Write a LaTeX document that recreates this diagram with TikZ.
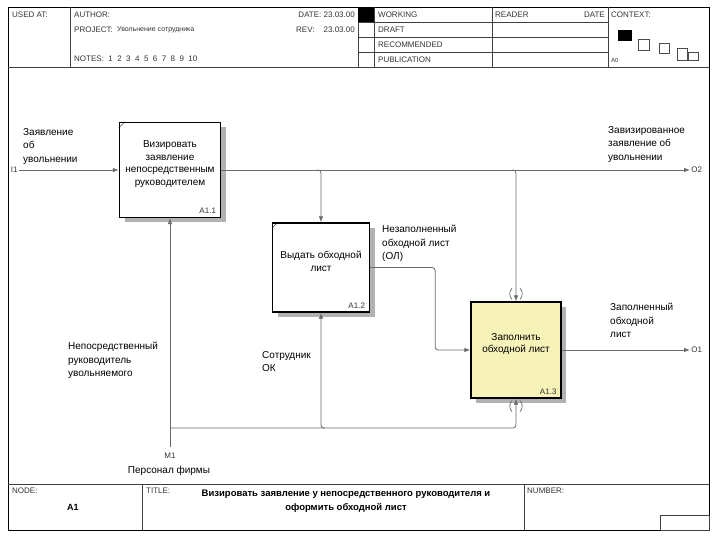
\documentclass[tikz,border=0pt]{standalone}
\usepackage{fontspec}
\setmainfont{Liberation Sans}
\usetikzlibrary{arrows.meta,shadows,calc}
\definecolor{boxyellow}{RGB}{246,242,184}
\definecolor{linegray}{RGB}{105,105,105}

\begin{document}
\begin{tikzpicture}[x=1pt, y=-1pt, inner sep=1pt,
    hdr/.style={font=\fontsize{8}{9}\selectfont, anchor=west, text=black!80},
    lbl/.style={font=\fontsize{10}{13.5}\selectfont, align=left, anchor=north west},
    boxtxt/.style={font=\fontsize{10}{12.5}\selectfont, align=center},
    act/.style={draw, line width=1.3pt, fill=white,
      drop shadow={shadow xshift=5pt, shadow yshift=-5pt, fill=black!30, opacity=1}},
    flow/.style={draw=linegray, line width=.8pt, rounded corners=3pt,
      -{Latex[length=6pt,width=4.5pt]}}]
   \useasboundingbox (0,0) rectangle (720,540);
   % frame and header
   \draw[line width=.7pt] (8,7) rectangle (709,530);
   \draw[black!75] (8,67) -- (709,67);
   \draw[black!75] (70,7) -- (70,67);
   \draw[black!75] (358,7) -- (358,67) (374,7) -- (374,67);
   \fill (358,7) rectangle (374,22);
   \draw[black!75] (358,22) -- (608,22) (358,37) -- (608,37) (358,52) -- (608,52);
   \draw[black!75] (492,7) -- (492,67) (608,7) -- (608,67);
   \node[hdr] (usedat) at (11,15) {USED AT:};
   \node[hdr] (author) at (73,15) {AUTHOR:};
   \node[hdr] (project) at (73,30) {PROJECT:};
   \node[hdr, font=\fontsize{7}{8}\selectfont] (projname) at (116,30) {Увольнение сотрудника};
   \node[hdr] (notes) at (73,59) {NOTES:~~1~~2~~3~~4~~5~~6~~7~~8~~9~~10};
   \node[hdr, anchor=east] (date) at (356,15) {DATE:~23.03.00};
   \node[hdr] (rev) at (295,30) {REV:};
   \node[hdr, anchor=east] (revdate) at (356,30) {23.03.00};
   \node[hdr] (working) at (377,15) {WORKING};
   \node[hdr] (draft) at (377,30) {DRAFT};
   \node[hdr] (recom) at (377,45) {RECOMMENDED};
   \node[hdr] (publ) at (377,60) {PUBLICATION};
   \node[hdr] (reader) at (494,15) {READER};
   \node[hdr, anchor=east] (rdate) at (606,15) {DATE};
   \node[hdr] (context) at (610,15) {CONTEXT:};
   \node[hdr, font=\fontsize{6}{7}\selectfont] (ctxnode) at (610,60) {A0};
   \fill (618,30) rectangle (632,41);
   \draw[black!70] (638,39) rectangle (649,50) (659,43) rectangle (669,53)
      (677,48) rectangle (687,60) (688,52) rectangle (698,60);
   % footer
   \draw[black!75] (8,484) -- (709,484) (142,484) -- (142,530) (524,484) -- (524,530);
   \draw[black!75] (660,515) rectangle (709,530);
   \node[hdr] (nodelbl) at (11,491) {NODE:};
   \node[font=\bfseries\fontsize{9}{11}\selectfont] (nodeid) at (73,507) {A1};
   \node[hdr] (titlelbl) at (145,491) {TITLE:};
   \node[font=\bfseries\fontsize{9.5}{14}\selectfont, align=center] (title) at (346,501)
      {Визировать заявление у непосредственного руководителя и\\оформить обходной лист};
   \node[hdr] (number) at (526,491) {NUMBER:};

   % activities
   \node[act, minimum width=101, minimum height=95] (A11) at (170,170) {};
   \node[act, minimum width=97, minimum height=89] (A12) at (321,267.5) {};
   \node[act, fill=boxyellow, minimum width=90, minimum height=96] (A13) at (516,350) {};
   \node[boxtxt] (A11txt) at ([yshift=6pt]A11.center) {Визировать\\заявление\\непосредственным\\руководителем};
   \node[boxtxt] (A12txt) at ([yshift=6pt]A12.center) {Выдать обходной\\лист};
   \node[boxtxt] (A13txt) at ([yshift=6pt]A13.center) {Заполнить\\обходной лист};
   \node[hdr, anchor=south east] (A11id) at ([xshift=-4pt,yshift=3pt]A11.south east) {A1.1};
   \node[hdr, anchor=south east] (A12id) at ([xshift=-4pt,yshift=3pt]A12.south east) {A1.2};
   \node[hdr, anchor=south east] (A13id) at ([xshift=-4pt,yshift=3pt]A13.south east) {A1.3};
   \draw ([yshift=-6pt]A11.north west) -- ([xshift=6pt]A11.north west);
   \draw ([yshift=-6pt]A12.north west) -- ([xshift=6pt]A12.north west);

   % boundary points
   \coordinate (I1) at (19,170);
   \coordinate (O2) at (690,170);
   \coordinate (O1) at (690,350);
   \coordinate (M1) at (170,447);
   \coordinate (MJ) at (170,428);

   % arrows
   \draw[flow] (I1) -- (A11.west) node[pos=0, left, hdr, anchor=east] {I1};
   \draw[flow] (A11.east) -- (O2) node[pos=1, hdr] {O2};
   \draw[flow] ($(A11.east -| A12.north)+(-4,0)$) -- (A11.east -| A12.north) -- (A12.north);
   \draw[flow] ($(A11.east -| A13.north)+(-4,0)$) -- (A11.east -| A13.north) -- (A13.north);
   \draw[flow] (A12.east) -- ++(65,0) |- (A13.west);
   \draw[flow] (A13.east) -- (O1) node[pos=1, hdr] {O1};
   \draw[flow] (M1) -- (A11.south);
   \draw[flow] (MJ) -- (MJ -| A13.south) -- (A13.south);
   \draw[flow] ($(MJ -| A12.south)+(4,0)$) -- (MJ -| A12.south) -- (A12.south);
   % tunnel marks
   \draw[linegray, line width=.7pt] ($(A13.north)+(-4,-13)$) .. controls +(-3,3) and +(-3,-3) .. ($(A13.north)+(-4,-2)$)
      ($(A13.north)+(4,-13)$) .. controls +(3,3) and +(3,-3) .. ($(A13.north)+(4,-2)$);
   \draw[linegray, line width=.7pt] ($(A13.south)+(-4,2)$) .. controls +(-3,3) and +(-3,-3) .. ($(A13.south)+(-4,13)$)
      ($(A13.south)+(4,2)$) .. controls +(3,3) and +(3,-3) .. ($(A13.south)+(4,13)$);

   % arrow labels
   \node[lbl] (l1) at (22,127) {Заявление\\об\\увольнении};
   \node[lbl] (l2) at (607,125) {Завизированное\\заявление об\\увольнении};
   \node[lbl] (l3) at (381,224) {Незаполненный\\обходной лист\\(ОЛ)};
   \node[lbl] (l4) at (609,302) {Заполненный\\обходной\\лист};
   \node[lbl] (l5) at (67,341) {Непосредственный\\руководитель\\увольняемого};
   \node[lbl] (l6) at (261,350) {Сотрудник\\ОК};
   \node[hdr, anchor=center] (m1lbl) at (170,456) {M1};
   \node[lbl, anchor=center] (m1txt) at (169,471) {Персонал фирмы};
\end{tikzpicture}
\end{document}
